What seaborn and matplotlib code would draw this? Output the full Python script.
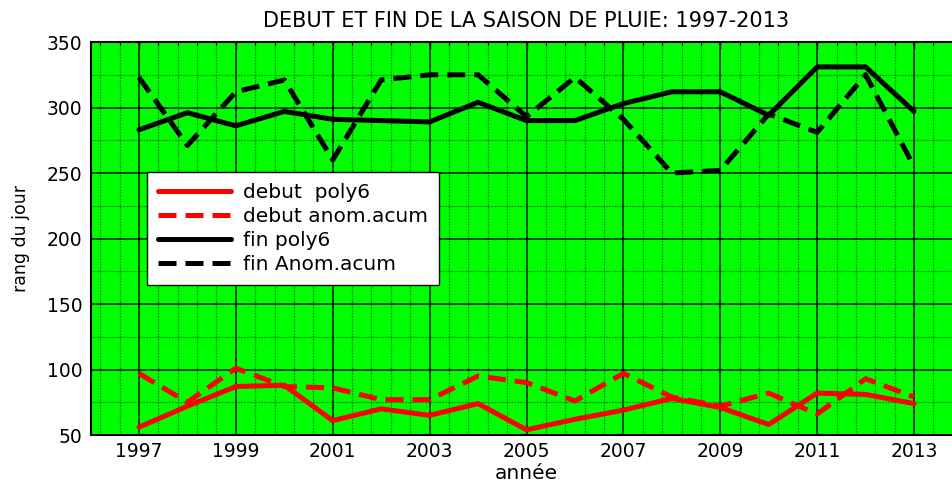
import matplotlib
matplotlib.use("Agg")
import matplotlib.pyplot as plt
from matplotlib.ticker import FixedLocator, MultipleLocator
import numpy as np
import pandas as pd
import seaborn as sns

years = [1997, 1998, 1999, 2000, 2001, 2002, 2003, 2004, 2005,
         2006, 2007, 2008, 2009, 2010, 2011, 2012, 2013]
debut_poly6 = [56, 72, 87, 88, 61, 70, 65, 74, 54, 62, 69, 78, 71, 58, 82, 81, 74]
debut_anom = [97, 75, 101, 87, 86, 77, 77, 95, 90, 76, 97, 79, 72, 82, 66, 93, 79]
fin_poly6 = [283, 296, 286, 297, 291, 290, 289, 304, 290, 290, 303, 312, 312, 294, 331, 331, 297]
fin_anom = [323, 271, 312, 321, 260, 321, 325, 325, 293, 323, 291, 250, 252, 295, 281, 325, 255]

series_labels = ["debut  poly6", "debut anom.acum", "fin poly6", "fin Anom.acum"]
year_ticks = [1997, 1999, 2001, 2003, 2005, 2007, 2009, 2011, 2013]

sns.set_theme(style="white")
plt.rcParams["font.family"] = ["DejaVu Sans"]
plt.rcParams["text.color"] = "black"
plt.rcParams["axes.labelcolor"] = "black"

data = pd.DataFrame({
    "annee": years * 4,
    "rang": debut_poly6 + debut_anom + fin_poly6 + fin_anom,
    "serie": [lab for lab in series_labels for _ in years],
})

fig = plt.figure(figsize=(9.52, 4.84), dpi=100)
ax = fig.add_axes([0.0951, 0.1012, 0.9159, 0.812])
ax.set_facecolor("#00ff00")

styles = {
    "debut  poly6": ("#ff0000", "-"),
    "debut anom.acum": ("#ff0000", (0, (3.6, 1.8))),
    "fin poly6": ("#000000", "-"),
    "fin Anom.acum": ("#000000", (0, (3.6, 1.8))),
}
for name in series_labels:
    color, ls = styles[name]
    sns.lineplot(data=data[data["serie"] == name], x="annee", y="rang",
                 color=color, linestyle=ls, linewidth=3.6, label=name,
                 ax=ax, zorder=3)

ax.set_xlim(1996, 2014)
ax.set_ylim(50, 350)
ax.xaxis.set_major_locator(FixedLocator(year_ticks))
ax.xaxis.set_minor_locator(FixedLocator(np.arange(1996.2, 2014, 0.4)))
ax.yaxis.set_major_locator(MultipleLocator(50))
ax.yaxis.set_minor_locator(MultipleLocator(25))

ax.grid(which="major", color="black", linewidth=1.1, linestyle="-", alpha=0.9)
ax.grid(which="minor", color="#0a4a0a", linewidth=0.9, linestyle=(0, (1.5, 0.8)), alpha=0.6)
ax.set_axisbelow(True)

ax.tick_params(which="both", direction="in", top=True, right=True, colors="black")
ax.tick_params(which="major", length=5, width=1)
ax.tick_params(which="minor", length=2.5, width=0.8)
ax.tick_params(axis="x", labelsize=13.5, pad=5)
ax.tick_params(axis="y", labelsize=13.5, pad=6)

for side, spine in ax.spines.items():
    spine.set_color("black")
    spine.set_linewidth(1.5)

ax.set_title("DEBUT ET FIN DE LA SAISON DE PLUIE: 1997-2013", fontsize=15, pad=11,
             color="black")
ax.set_xlabel("année", fontsize=14.5, labelpad=2)
ax.set_ylabel("rang du jour", fontsize=12.5, labelpad=12)

leg = ax.legend(loc="upper left", bbox_to_anchor=(0.0648, 0.669), borderaxespad=0,
                fontsize=14.5, handlelength=3.6, handletextpad=0.6,
                borderpad=0.55, labelspacing=0.24, frameon=True, fancybox=False,
                framealpha=1, facecolor="white", edgecolor="black")
leg.get_frame().set_linewidth(1.0)

fig.savefig("out.png", dpi=100, facecolor="white")
